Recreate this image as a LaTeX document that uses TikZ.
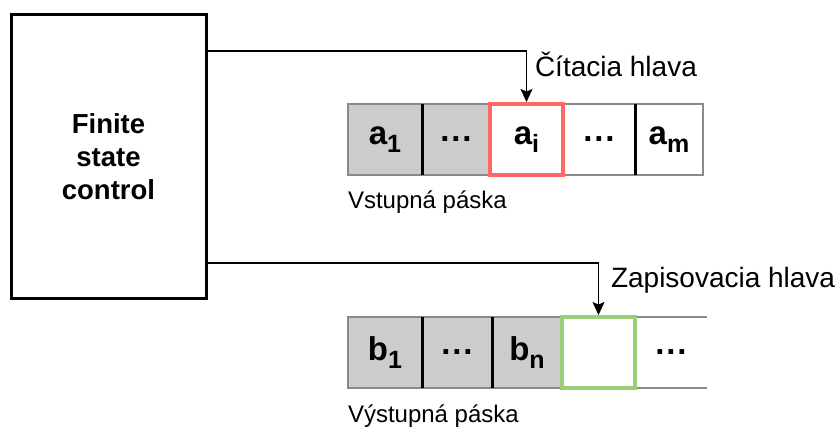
\documentclass[tikz,border=0pt]{standalone}
\usepackage{fontspec}
\setmainfont{Liberation Sans}
\usetikzlibrary{arrows.meta,calc}

\definecolor{cellgray}{HTML}{CCCCCC}
\definecolor{tapeedge}{HTML}{8A8A8A}
\definecolor{headred}{HTML}{FF6666}
\definecolor{headgreen}{HTML}{97D077}

% subscript index inside a tape cell
\newcommand{\tapesub}[1]{\raisebox{-0.24em}{\fontsize{25}{25}\selectfont #1}}
% widely spaced dots for elided cells
\newcommand{\tapedots}{.\kern1.8pt.\kern1.8pt.}

\begin{document}
\begin{tikzpicture}[x=1pt,y=-1pt,
  every node/.style={outer sep=0pt, inner sep=0pt},
  tapecell/.style={minimum height=71pt, anchor=north west,
    font=\fontsize{33}{33}\selectfont\bfseries},
  tapeline/.style={draw=tapeedge, line width=1.3pt},
  divider/.style={draw=black, line width=3pt},
  headframe/.style={line width=4.2pt},
  headarrow/.style={draw=black, line width=1.4pt,
    -{Stealth[length=13pt,width=12pt,inset=2.5pt]}, shorten >=2pt},
  headlabel/.style={anchor=base west, font=\fontsize{28}{28}\selectfont},
  tapelabel/.style={anchor=base west, font=\fontsize{24}{24}\selectfont}]

\useasboundingbox (0,0) rectangle (838,428);

% finite state control
\node[draw=black, line width=3pt, minimum width=195pt, minimum height=283pt,
      anchor=north west, align=center,
      font=\fontsize{27.5}{33}\selectfont\bfseries] (fsc) at (11,15)
      {Finite\\state\\control};

% input tape
\node[tapecell, minimum width=74pt, fill=cellgray] (a1) at (348,104) {a\tapesub{1}};
\node[tapecell, minimum width=68pt, fill=cellgray] (a2) at (422,104) {\tapedots};
\node[tapecell, minimum width=73pt, fill=white]    (ai) at (490,104) {a\tapesub{i}};
\node[tapecell, minimum width=72pt, fill=white]    (a4) at (563,104) {\tapedots};
\node[tapecell, minimum width=68pt, fill=white]    (am) at (635,104) {a\tapesub{m}};
\draw[tapeline] (a1.north west) rectangle (am.south east);
\draw[divider] (a1.north east) -- (a1.south east);
\draw[divider] (a2.north east) -- (a2.south east);
\draw[divider] (a4.north east) -- (a4.south east);
\draw[headframe, draw=headred] (ai.north west) rectangle (ai.south east);

% output tape
\node[tapecell, minimum width=74pt, fill=cellgray] (b1) at (348,317) {b\tapesub{1}};
\node[tapecell, minimum width=70pt, fill=cellgray] (b2) at (422,317) {\tapedots};
\node[tapecell, minimum width=70pt, fill=cellgray] (bn) at (492,317) {b\tapesub{n}};
\node[tapecell, minimum width=73pt, fill=white]    (bw) at (562,317) {};
\node[tapecell, minimum width=72pt]                (b5) at (635,317) {\tapedots};
\draw[tapeline] (b1.north west) rectangle (bw.south east);
\draw[tapeline] (bw.north east) -- (b5.north east);
\draw[tapeline] (bw.south east) -- (b5.south east);
\draw[divider] (b1.north east) -- (b1.south east);
\draw[divider] (b2.north east) -- (b2.south east);
\draw[headframe, draw=headgreen] (bw.north west) rectangle (bw.south east);

% heads
\draw[headarrow] ($(fsc.north east)+(0,36)$) -| (ai.north);
\draw[headarrow] ($(fsc.north east)+(0,248)$) -| (bw.north);

% labels
\node[headlabel] (rlab) at (535,77) {Čítacia hlava};
\node[headlabel] (wlab) at (611,287) {Zapisovacia hlava};
\node[tapelabel] (inlab) at (348,208) {Vstupná páska};
\node[tapelabel] (outlab) at (348,422) {Výstupná páska};
\end{tikzpicture}
\end{document}
